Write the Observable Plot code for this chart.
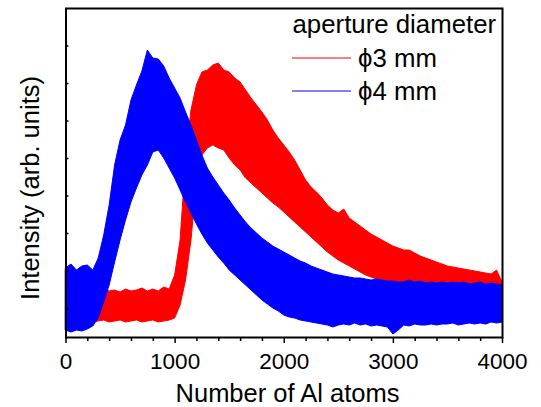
<!DOCTYPE html>
<html><head><meta charset="utf-8">
<script src="https://cdn.jsdelivr.net/npm/d3@7"></script>
<script src="https://cdn.jsdelivr.net/npm/@observablehq/plot@0.6"></script>
<style>
body{margin:0;background:#fff;font-family:"Liberation Sans",Arial,sans-serif}
#c{position:relative;width:541px;height:407px}
</style>
</head><body><div id="c"></div>
<script>
// Number of Al atoms (sample positions)
const atoms = [0,50,100,150,200,250,300,350,400,450,500,550,600,650,700,750,800,850,900,950,
1000,1050,1100,1150,1200,1250,1300,1350,1400,1450,1500,1550,1600,1650,1700,1750,1800,1850,1900,1950,
2000,2050,2100,2150,2200,2250,2300,2350,2400,2450,2500,2550,2600,2650,2700,2750,2800,2850,2900,2950,
3000,3050,3100,3150,3200,3250,3300,3350,3400,3450,3500,3550,3600,3650,3700,3750,3800,3850,3900,3950,4000];

// phi 4 mm: upper / lower envelope of the noisy trace (arb. units)
const phi4High = [69,73,67,71,72,67,79,102,132,172,197,212,237,252,266,287,279,278,271,259,
249,239,225,212,197,182,169,160,152,144,137,129,122,115,109,104,99,95,91,88,
85,82,79,76,74,71,69,67,65,63,62,61,60,59,59,58,57,58,57,56,
56,55,55,57,55,56,54,55,54,55,54,55,54,55,53,54,55,53,54,53,52];
const phi4Low = [7,5,7,6,8,11,19,35,52,75,97,117,135,149,162,172,185,187,179,169,
159,147,135,124,113,103,94,87,80,74,67,62,57,52,47,42,37,33,29,26,
22,20,19,17,16,15,14,13,12,10,12,13,12,14,12,13,11,12,11,10,
3,7,12,11,13,12,12,13,12,13,13,14,12,13,14,13,14,13,15,14,15];

// phi 3 mm: upper / lower envelope of the noisy trace (arb. units)
const phi3High = [null,null,42,45,44,47,45,49,46,47,45,48,46,47,49,46,48,46,50,48,
62,97,177,227,252,265,267,272,274,267,265,259,255,247,239,232,225,217,207,199,
192,185,177,167,157,150,145,139,132,127,124,128,119,115,111,107,103,100,97,94,
91,89,87,87,84,81,79,77,75,73,71,70,69,68,67,66,65,64,63,67,55];
const phi3Low = [null,null,17,16,17,15,16,17,15,16,17,15,16,17,15,16,17,15,16,17,
19,32,57,97,157,182,189,192,189,187,179,172,167,159,154,149,144,139,134,130,
125,120,115,110,105,100,95,90,85,81,77,74,71,68,65,62,60,58,56,54,
52,51,50,49,48,47,47,46,46,45,45,44,44,43,43,42,42,41,41,40,40];

const xMajor = [0,1000,2000,3000,4000];
const xMinor = [200,400,600,800,1200,1400,1600,1800,2200,2400,2600,2800,3200,3400,3600,3800];
const yTicks = [29,66.5,104,141.5,179,216.5,254,291.5];

const seriesNames = ["\u03D53 mm","\u03D54 mm"];
const seriesColors = ["#ff0000","#0000ff"];
const legendTitle = "aperture diameter";
const xLabel = "Number of Al atoms";
const yLabel = "Intensity (arb. units)";

const rows3 = atoms.map((a,i)=>({a, lo: phi3Low[i], hi: phi3High[i]}));
const rows4 = atoms.map((a,i)=>({a, lo: phi4Low[i], hi: phi4High[i]}));

const font = '"Liberation Sans", Arial, sans-serif';
const chart = Plot.plot({
  width: 541, height: 407,
  marginLeft: 65.5, marginRight: 39, marginTop: 8, marginBottom: 70,
  style: {fontFamily: font, background: "#fff", color: "#000"},
  x: {domain: [0,4000]},
  y: {domain: [0,329]},
  marks: [
    Plot.areaY(rows3, {x: "a", y1: "lo", y2: "hi", fill: seriesColors[0], stroke: seriesColors[0], strokeWidth: 1}),
    Plot.areaY(rows4, {x: "a", y1: "lo", y2: "hi", fill: seriesColors[1], stroke: seriesColors[1], strokeWidth: 1}),
    Plot.axisX({ticks: xMajor, tickFormat: d => String(d), tickSize: 6, tickPadding: 10, fontSize: 22.5, label: null, strokeWidth: 1.5}),
    Plot.axisX({ticks: xMinor, tickSize: 4, text: null, label: null, strokeWidth: 1.5}),
    Plot.axisY({ticks: yTicks, tickSize: -3, text: null, label: null, strokeWidth: 1.5}),
    Plot.frame({stroke: "#000", strokeWidth: 2})
  ]
});
document.getElementById("c").appendChild(chart);

const svg = d3.select(chart);
svg.append("text").attr("x", 287.5).attr("y", 402).attr("text-anchor","middle")
  .attr("font-size", 25.5).attr("font-family", font).attr("fill","#000").text(xLabel);
svg.append("text").attr("transform","translate(39,188) rotate(-90)").attr("text-anchor","middle")
  .attr("font-size", 25.5).attr("font-family", font).attr("fill","#000").text(yLabel);
svg.append("text").attr("x", 292.5).attr("y", 33).attr("text-anchor","start").attr("font-size", 25.8).attr("font-family", font)
  .attr("fill","#000").text(legendTitle);
seriesNames.forEach((n,i)=>{
  const y = 58 + i*33;
  svg.append("line").attr("x1",292).attr("x2",351).attr("y1",y).attr("y2",y)
    .attr("stroke",seriesColors[i]).attr("stroke-width",1.2);
  svg.append("text").attr("x",358).attr("y",y+9).attr("text-anchor","start").attr("font-size",25.8).attr("font-family",font)
    .attr("fill","#000").text(n);
});
</script>
</body></html>
